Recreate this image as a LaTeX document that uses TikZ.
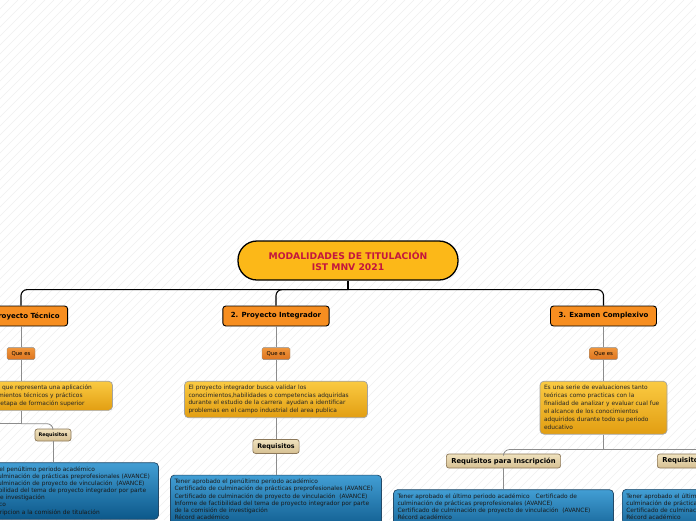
\documentclass[tikz,border=0pt]{standalone}
\usepackage{fontspec}
\setmainfont{DejaVu Sans}
\usepackage{tikz}
\usetikzlibrary{positioning, calc}
\definecolor{oro}{RGB}{252,184,24}
\definecolor{rojo}{RGB}{196,22,62}
\definecolor{naranja}{RGB}{247,142,32}
\definecolor{naranjaclaro}{RGB}{240,150,60}
\definecolor{naranjaoscuro}{RGB}{222,116,30}
\definecolor{oroclaro}{RGB}{250,202,66}
\definecolor{orooscuro}{RGB}{226,158,18}
\definecolor{beigeclaro}{RGB}{240,226,190}
\definecolor{beigeoscuro}{RGB}{214,192,146}
\definecolor{cafe}{RGB}{140,120,90}
\definecolor{azulclaro}{RGB}{66,158,212}
\definecolor{azuloscuro}{RGB}{12,88,138}
\definecolor{azulborde}{RGB}{36,74,104}
\definecolor{gris}{RGB}{140,140,140}
\tikzset{
  titulo/.style={rectangle, rounded corners=19pt, minimum width=220pt, minimum height=39pt, align=center, draw=black, line width=1.3pt, fill=oro, text=rojo, font=\fontsize{9.2}{10.6}\selectfont\bfseries},
  rama/.style={rectangle, rounded corners=3pt, minimum height=20pt, inner xsep=8pt, draw=black, line width=0.9pt, fill=naranja, font=\fontsize{7}{8}\selectfont\bfseries},
  quees/.style={rectangle, rounded corners=1.5pt, minimum width=28pt, minimum height=12pt, inner sep=1pt, draw=gris, top color=naranjaclaro, bottom color=naranjaoscuro, font=\fontsize{5.4}{6}\selectfont},
  detalle/.style={rectangle, rounded corners=4pt, inner sep=4pt, align=left, draw=gris!80, line width=0.7pt, top color=oroclaro, bottom color=orooscuro, text=black!85, font=\fontsize{5.9}{7.6}\selectfont},
  requisito/.style={rectangle, rounded corners=2.5pt, minimum height=14pt, inner xsep=5pt, draw=cafe, line width=0.7pt, top color=beigeclaro, bottom color=beigeoscuro, font=\fontsize{6.8}{7.5}\selectfont\bfseries},
  lista/.style={rectangle, rounded corners=4pt, inner sep=4pt, text width=203pt, align=left, draw=azulborde, line width=0.7pt, top color=azulclaro, bottom color=azuloscuro, text=black!90, font=\fontsize{5.9}{7.1}\selectfont},
  troncal/.style={draw=black, line width=1.1pt, rounded corners=6pt},
  enlace/.style={draw=gris, line width=0.8pt, rounded corners=6pt},
  raya/.style={draw=gray!12, line width=0.4pt}
}
\begin{document}
\begin{tikzpicture}[x=1pt, y=-1pt, node distance=21pt]
    \useasboundingbox (0,0) rectangle (696,520);
    \clip (0,0) rectangle (696,520);
    \fill[white] (0,0) rectangle (696,520);
    \foreach \i in {-520,-511,...,700}
        \draw[raya] (\i,520) -- ($(\i,520)+(520,-520)$);

    \node (raiz) [titulo] at (348,260.5) {MODALIDADES DE TITULACIÓN\\IST MNV 2021};

    % Ramas principales
    \node (rama1) [rama] at (21,316) {1. Proyecto Técnico};
    \node (rama2) [rama] at (276,316) {2. Proyecto Integrador};
    \node (rama3) [rama] at (603.5,316) {3. Examen Complexivo};

    % Proyecto tecnico
    \node (que1) [quees, below=of rama1] {Que es};
    \node (det1) [detalle, below=of que1, text width=175pt, minimum height=28pt]
    {Es el proyecto integral que representa una aplicación\\
     práctica de los conocimientos técnicos y prácticos\\
     adquiridos durante su etapa de formación superior};
    \node (req1) [requisito, minimum width=36pt, minimum height=12pt, inner xsep=2pt, font=\fontsize{4.9}{5.5}\selectfont\bfseries] at (53,435) {Requisitos};
    \node (lista1) [lista, below=of req1]
    {Tener aprobado el penúltimo periodo académico\\
     Certificado de culminación de prácticas preprofesionales (AVANCE)\\
     Certificado de culminación de proyecto de vinculación~ (AVANCE)\\
     Informe de factibilidad del tema de proyecto integrador por parte\\
     de la comisión de investigación\\
     Récord académico\\
     Solicitud de inscripcion a la comisión de titulación};

    % Proyecto integrador
    \node (que2) [quees, below=of rama2] {Que es};
    \node (det2) [detalle, below=of que2, text width=175pt, minimum height=35pt]
    {El proyecto integrador busca validar los\\
     conocimientos,habilidades o competencias adquiridas\\
     durante el estudio de la carrera~ ayudan a identificar\\
     problemas en el campo industrial del area publica};
    \node (req2) [requisito, below=of det2, inner xsep=4.5pt, font=\fontsize{6.3}{7}\selectfont\bfseries] {Requisitos};
    \node (lista2) [lista, below=of req2]
    {Tener aprobado el penúltimo periodo académico\\
     Certificado de culminación de prácticas preprofesionales (AVANCE)\\
     Certificado de culminación de proyecto de vinculación~ (AVANCE)\\
     Informe de factibilidad del tema de proyecto integrador por parte\\
     de la comisión de investigación\\
     Récord académico\\
     Solicitud de inscripcion a la comisión de titulación};

    % Examen complexivo
    \node (que3) [quees, below=of rama3] {Que es};
    \node (det3) [detalle, below=of que3, text width=119pt, minimum height=53pt, font=\fontsize{5.9}{8}\selectfont]
    {Es una serie de evaluaciones tanto\\
     teóricas como practicas con la\\
     finalidad de analizar y evaluar cual fue\\
     el alcance de los conocimientos\\
     adquiridos durante todo su periodo\\
     educativo};
    \node (req3a) [requisito] at (503.5,461) {Requisitos para Inscripción};
    \node (lista3a) [lista, below=of req3a, text width=212pt]
    {Tener aprobado el último periodo académico~~ Certificado de\\
     culminación de prácticas preprofesionales (AVANCE)\\
     Certificado de culminación de proyecto de vinculación~ (AVANCE)\\
     Récord académico\\ ~\\ ~};
    \node (req3b) [requisito, anchor=west] at (657,461) {Requisitos para Rendir el Examen};
    \node (lista3b) [lista, anchor=north west, text width=212pt] at (622,489)
    {Tener aprobado el último periodo académico~~ Certificado de\\
     culminación de prácticas preprofesionales (AVANCE)\\
     Certificado de culminación de proyecto de vinculación~ (AVANCE)\\
     Récord académico\\ ~\\ ~};

    % Conectores
    \coordinate[below=9pt of raiz] (eje);
    \draw[troncal] (raiz) -- (eje);
    \draw[troncal] (eje) -| (rama1);
    \draw[troncal] (eje) -| (rama2);
    \draw[troncal] (eje) -| (rama3);

    \draw[enlace] (rama1) -- (que1);
    \draw[enlace] (que1) -- (det1);
    \coordinate[below=13pt of det1] (cruce1);
    \coordinate[left=40pt of cruce1] (fuera1);
    \draw[enlace] (det1) -- (cruce1);
    \draw[enlace] (cruce1) -| (req1);
    \draw[enlace] (cruce1) -- (fuera1);
    \draw[enlace] (req1) -- (req1 |- lista1.north);

    \draw[enlace] (rama2) -- (que2);
    \draw[enlace] (que2) -- (det2);
    \draw[enlace] (det2) -- (req2);
    \draw[enlace] (req2) -- (lista2);

    \draw[enlace] (rama3) -- (que3);
    \draw[enlace] (que3) -- (det3);
    \coordinate[below=15pt of det3] (cruce3);
    \draw[enlace] (det3) -- (cruce3);
    \draw[enlace] (cruce3) -| (req3a);
    \draw[enlace] (cruce3) -| (req3b);
    \draw[enlace] (req3a) -- (lista3a);
    \draw[enlace] (req3b) -- (lista3b);

\end{tikzpicture}
\end{document}
